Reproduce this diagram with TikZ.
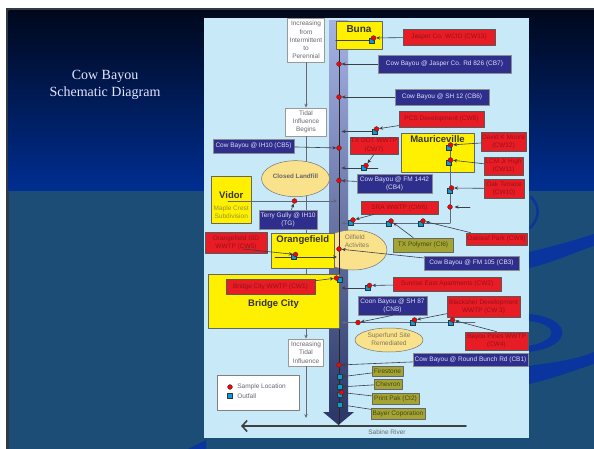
\documentclass[tikz,border=0pt]{standalone}
\usepackage{fontspec}
\setmainfont{Liberation Sans}
\newfontfamily\titlefont{Liberation Serif}
\usetikzlibrary{arrows.meta,shapes.geometric}
\pgfdeclarelayer{front}
\pgfsetlayers{main,front}

\definecolor{framegray}{RGB}{52,56,66}
\definecolor{slidetop}{RGB}{0,8,28}
\definecolor{slidemid}{RGB}{0,46,146}
\definecolor{slidelow}{RGB}{27,77,118}
\definecolor{swoosh}{RGB}{10,52,158}
\definecolor{panel}{RGB}{200,233,248}
\definecolor{cwred}{RGB}{232,28,36}
\definecolor{cwtext}{RGB}{150,18,28}
\definecolor{cbnavy}{RGB}{46,46,140}
\definecolor{cbtext}{RGB}{222,222,245}
\definecolor{ciolive}{RGB}{164,164,52}
\definecolor{citext}{RGB}{70,70,22}
\definecolor{town}{RGB}{255,240,0}
\definecolor{blob}{RGB}{250,226,140}
\definecolor{wire}{RGB}{60,62,72}
\definecolor{trib}{RGB}{96,104,124}
\definecolor{note}{RGB}{105,105,115}
\definecolor{blobtext}{RGB}{130,120,90}
\definecolor{maple}{RGB}{150,150,40}
\definecolor{outcyan}{RGB}{0,160,222}
\definecolor{bandtop}{RGB}{165,178,228}
\definecolor{bandmid}{RGB}{55,90,185}
\definecolor{bandbot}{RGB}{45,58,105}

\tikzset{
  sz/.style 2 args={minimum width=#1pt,minimum height=#2pt},
  lbl/.style={font=\fontsize{6.5}{8.3}\selectfont,align=center,inner sep=0pt,line width=.7pt},
  cw/.style={lbl,fill=cwred,draw=black!65,text=cwtext},
  cb/.style={lbl,fill=cbnavy,draw=black!45,text=cbtext},
  ci/.style={lbl,fill=ciolive,draw=black!60,text=citext},
  wbox/.style={lbl,fill=white,draw=black!40,text=note},
  townbox/.style={fill=town,draw=black!60,line width=.7pt,inner sep=0pt},
  townname/.style={font=\fontsize{9.5}{11}\selectfont\bfseries,text=black!80,inner sep=1pt},
  blobby/.style={ellipse,fill=blob,draw=black!55,line width=.5pt,inner sep=0pt},
  sample/.style={circle,fill=red,draw=black!80,line width=.4pt,minimum size=4.8pt,inner sep=0pt},
  outfall/.style={rectangle,fill=outcyan,draw=black!80,line width=.4pt,minimum size=5pt,inner sep=0pt},
  feed/.style={draw=wire,line width=.6pt,->},
  tribline/.style={draw=trib,line width=.9pt},
}

\begin{document}
\begin{tikzpicture}[x=1pt,y=-1pt,>={Stealth[length=4pt,width=3.4pt]},line join=round,line cap=round]
\useasboundingbox (0,0) rectangle (594,449);
% slide background
\fill[framegray] (6,8) rectangle (594,449);
\shade[top color=slidetop,bottom color=slidemid] (8.5,10.5) rectangle (594,191);
\fill[slidelow] (8.5,191) rectangle (594,449);
\fill[swoosh] (529,252) .. controls (555,246) and (575,240) .. (594,234) -- (594,246) .. controls (575,252) and (555,262) .. (529,268) -- cycle;
\draw[swoosh,line width=2.5pt] (531,197) .. controls (540,206) and (540,218) .. (530,228);
\fill[swoosh] (529,314) .. controls (572,318) and (575,346) .. (529,352) -- (529,346) .. controls (560,340) and (558,324) .. (529,321) -- cycle;
\fill[swoosh] (529,366) .. controls (555,362) and (575,360) .. (594,352) -- (594,364) .. controls (575,370) and (555,378) .. (529,384) -- cycle;
\fill[swoosh] (188,449) -- (206,440) -- (206,449) -- cycle;
\node[text=white!90!blue,font=\titlefont\fontsize{14}{17}\selectfont,align=center] (title) at (105,84.5) {Cow Bayou\\Schematic Diagram};

% panel
\fill[panel] (204,18) rectangle (529,438);

% tidal axis
\node[wbox,sz={37}{44}] (incr1) at (306,40) {Increasing\\from\\Intermittent\\to\\Perennial};
\node[wbox,sz={41}{28}] (tidal) at (306,122) {Tidal\\Influence\\Begins};
\node[wbox,sz={35}{27}] (incr2) at (306,352.5) {Increasing\\Tidal\\Influence};
\coordinate (axisend) at (306,418);
\draw[note,line width=.7pt,->] (incr1) -- (tidal);
\draw[note,line width=.7pt,->] (tidal) -- (incr2);
\draw[note,line width=.7pt,->] (incr2) -- (axisend);

% Cow Bayou
\shade[top color=bandtop,middle color=bandmid,bottom color=bandbot] (329,21) rectangle (348,413);
\fill[bandbot] (323,412) -- (354,412) -- (338.5,425) -- cycle;
\node[blobby,sz={68}{36}] (landfill) at (295.5,178.7) {};
\node[font=\fontsize{6.3}{7}\selectfont\bfseries,text=black!60,inner sep=0pt] (landtxt) at (295.5,176.7) {Closed Landfill};
\node[blobby,sz={68}{40}] (oilfield) at (353,250) {};
\node[blobby,sz={68}{24}] (superfund) at (389,340) {};
\node[lbl,text=blobtext] (suptxt) at (389,339.5) {Superfund Site\\Remediated};
\coordinate (rvtop) at (339,21);
\coordinate (rvbot) at (339,424);
\draw[black!85,line width=.8pt] (rvtop) -- (rvbot);
\node[lbl,text=blobtext,align=left] (oiltxt) at (357,241.5) {Oilfield\\Activites};
\coordinate (rv) at (341.5,0);
\coordinate (rvl) at (337,0);

% Sabine River
\coordinate (sabr) at (466,426);
\coordinate (sabl) at (241,426);
\draw[black!75,line width=1.6pt,-{Straight Barb[length=5pt,width=11pt]}] (sabr) -- (sabl);
\node[lbl,text=note] (sabine) at (387,432) {Sabine River};

% towns
\node[townbox,sz={46}{28}] (buna) at (359,35) {};
\node[townname,font=\fontsize{10}{12}\selectfont\bfseries] (bunaname) at (359,29) {Buna};
\node[townbox,sz={73}{39}] (mauri) at (437.5,152.5) {};
\node[townname] (mauriname) at (437.5,139) {Mauriceville};
\node[townbox,sz={40.5}{47}] (vidor) at (231.25,199.5) {};
\node[townname] (vidorname) at (231.25,195) {Vidor};
\node[lbl,text=maple] (maple) at (231.25,212) {Maple Crest\\Subdivision};
\node[townbox,sz={62.5}{35}] (orange) at (302.75,250.5) {};
\node[townname] (orangename) at (302.75,240) {Orangefield};
\node[townbox,sz={131}{54}] (bridge) at (273.5,301) {};
\node[townname] (bridgename) at (273.5,304) {Bridge City};

% stations and dischargers
\node[cw,sz={92}{16}] (cw13) at (449,37) {Jasper Co. WCID (CW13)};
\node[cb,sz={133}{18}] (cb7) at (444.5,64) {Cow Bayou @ Jasper Co. Rd 826 (CB7)};
\node[cb,sz={94}{16}] (cb6) at (442,97) {Cow Bayou @ SH 12 (CB6)};
\node[cw,sz={85}{16}] (cw8) at (441.5,119) {PCS Development (CW8)};
\node[cw,sz={48}{17}] (cw7) at (374,145.5) {TX DOT WWTP\\(CW7)};
\node[cb,sz={81}{14}] (cb5) at (253.5,146) {Cow Bayou @ IH10 (CB5)};
\node[cw,sz={45}{19}] (cw12) at (503.5,141.5) {David K Moore\\(CW12)};
\node[cw,sz={39}{18}] (cw11) at (503.5,166) {LCM Jr High\\(CW11)};
\node[cw,sz={40}{19}] (cw10) at (504,188.5) {Oak Terrace\\(CW10)};
\node[cb,sz={75}{19}] (cb4) at (394.5,183.5) {Cow Bayou @ FM 1442\\(CB4)};
\node[cb,sz={58}{19}] (tg) at (288,219.5) {Terry Gully @ IH10\\(TG)};
\node[cw,sz={77}{13}] (cw6) at (399.5,207.5) {SRA WWTP (CW6)};
\node[ci,sz={60}{14}] (ci6) at (423,245) {TX Polymer (CI6)};
\node[cw,sz={61}{12}] (cw9) at (496.5,239) {Oakleaf Park (CW9)};
\node[cw,sz={62}{21}] (cw5) at (236,242.5) {Orangefield ISD\\WWTP (CW5)};
\node[cb,sz={95}{14}] (cb3) at (471.5,263) {Cow Bayou @ FM 105 (CB3)};
\node[cw,sz={89}{15}] (cw1) at (270.5,286.5) {Bridge City WWTP (CW1)};
\node[cw,sz={108}{14}] (cw2) at (447,284) {Sunrise East Apartments (CW2)};
\node[cb,sz={69}{19}] (cnb) at (392.5,305.5) {Coon Bayou @ SH 87\\(CNB)};
\node[cw,sz={73}{21}] (cw3) at (483.5,306.5) {Blacksher Development\\WWTP (CW 3)};
\node[cw,sz={63}{18}] (cw4) at (496.5,341) {Bayou Pines WWTP\\(CW4)};
\node[cb,sz={115}{13}] (cb1) at (470.5,359.5) {Cow Bayou @ Round Bunch Rd (CB1)};
\node[ci,sz={31}{10}] (fire) at (387.5,371) {Firestone};
\node[ci,sz={28}{10}] (chev) at (388,384) {Chevron};
\node[ci,sz={47}{11}] (ci2) at (395.5,398.5) {Print Pak (CI2)};
\node[ci,sz={54}{11}] (bayer) at (398,413.5) {Bayer Coporation};

% markers
\begin{pgfonlayer}{front}
\foreach \n/\y in {cb7/64,cb6/97,cb5/148,cb4/180.5,cb3/249,cb1/365}
  \node[sample] (s\n) at (339,\y) {};
\foreach \n/\y in {fire/377,chev/387,bayer/404.5}
  \node[outfall] (o\n) at (339.5,\y) {};
\foreach \n/\x/\y in {buna/371.5/40.5,cw8/374.5/131.5,cw7/364/168,cw12/448.5/147.5,cw11/448.5/162.5,cw10/449.5/190.5,cw6/351/222.5,ci6/389/223.5,cw9/421/223.5,orf/293.5/257,cw2/367.5/288,cw3/412.5/322.5,cw4/450.5/322.5,ci2/339.5/395}{
  \node[outfall] (o\n) at (\x,\y) {};
  \node[sample] (s\n) at (\x+2,\y-2.5) {};
}
\node[outfall] (ocw1) at (340,279.5) {};
\node[sample] (scw1) at (336.5,278) {};
\node[sample] (smv) at (450,207) {};
\node[sample] (stg) at (294.5,201) {};
\node[sample] (scnb) at (358,322.5) {};
\end{pgfonlayer}

% tributaries
\coordinate (mvbend) at (450,223);
\coordinate (mvfree) at (470,207);
\coordinate (tdend) at (378,168);
\coordinate (vidorout) at (228,201);
\coordinate (orfin) at (275,257);
\coordinate (cw5out) at (243,249);
\coordinate (blend) at (475,322.5);
\draw[tribline] (scw12) -- (scw12 |- mvbend);
\draw[tribline,->] (mvbend) -- (mvbend -| rv);
\draw[tribline,->] (vidorout) -- (vidorout -| rvl);
\draw[tribline,->] (blend) -- (blend -| rv);
\draw[feed] (orfin) -- (orfin -| rvl);
\draw[wire,line width=.6pt] (obuna) -- (obuna -| buna.west);
\draw[feed] (ocw8) -- (ocw8 -| rv);
\draw[feed] (tdend) -- (tdend -| rv);
\draw[feed] (ocw2) -- (ocw2 -| rv);

% feeds
\draw[feed] (cw13) -- (sbuna);
\draw[feed] (cb7) -- (scb7);
\draw[feed] (cb6) -- (scb6);
\draw[feed] (cw8) -- (scw8);
\draw[feed] (cw7.south) -- (scw7);
\draw[feed] (cb5) -- (scb5);
\draw[feed] (cw12) -- (scw12);
\draw[feed] (cw11) -- (scw11);
\draw[feed] (cw10) -- (scw10);
\draw[feed,shorten >=2pt] (mvfree) -- (smv);
\draw[feed] (cb4) -- (scb4);
\draw[feed] (tg) -- (stg);
\draw[feed] (cw6) -- (scw6);
\draw[feed] (ci6) -- (sci6);
\draw[feed] (cw9) -- (scw9);
\draw[feed] (cw5out) -- (sorf);
\draw[feed] (cb3) -- (scb3);
\draw[feed] (cw1) -- (scw1);
\draw[feed] (cw2) -- (scw2);
\draw[feed] (cnb.south) -- (scnb);
\draw[feed] (cw3) -- (scw3);
\draw[feed] (cw4.north) -- (scw4);
\draw[feed] (cb1) -- (scb1);
\draw[feed] (fire) -- (ofire);
\draw[feed] (chev) -- (ochev);
\draw[feed] (ci2) -- (sci2);
\draw[feed] (bayer) -- (obayer);

% legend
\node[draw=black!50,fill=white,line width=.6pt,sz={82}{35}] (legend) at (258,392.5) {};
\node[sample] (legs) at (230,387) {};
\node[outfall] (lego) at (230,396) {};
\node[lbl,anchor=west,text=note] (legst) at (237,387) {Sample Location};
\node[lbl,anchor=west,text=note] (legot) at (237,396) {Outfall};
\end{tikzpicture}
\end{document}
